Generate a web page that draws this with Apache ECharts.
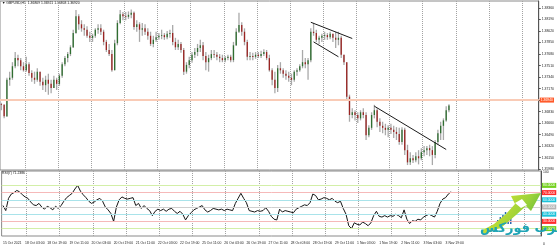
<!DOCTYPE html>
<html><head><meta charset="utf-8">
<script src="https://cdn.jsdelivr.net/npm/echarts@6/dist/echarts.min.js"></script>
<style>html,body{margin:0;padding:0;background:#fff}#c{width:557px;height:250px}</style>
</head><body><div id="c"></div>
<script>
// ---------- data ----------
var symbolTitle = 'GBPUSD,H1';
var headerQuote = ['1.36809', '1.36921', '1.36803', '1.36920'];
var tradingDays = ['15 Oct', '18 Oct', '19 Oct', '20 Oct', '21 Oct', '22 Oct', '25 Oct', '26 Oct', '27 Oct', '28 Oct', '29 Oct', '1 Nov', '2 Nov', '3 Nov'];
var barHours = ['01:00', '03:00', '05:00', '07:00', '09:00', '11:00', '13:00', '15:00', '17:00', '19:00', '21:00', '23:00'];
var firstDayStartSlot = 5;   // first bar: 15 Oct 11:00
var emptySlots = 32;          // chart shift area on the right
var firstLabel = '15 Oct 2021';
var labelEvery = 8;

var opens = [1.3694,1.3693,1.3676,1.3730,1.3733,1.3750,1.3762,1.3759,1.3750,1.3744,
1.3753,1.3740,1.3733,1.3730,1.3742,1.3727,1.3722,1.3730,1.3724,1.3718,
1.3730,1.3724,1.3736,1.3753,1.3762,1.3768,1.3778,1.3799,1.3824,1.3812,
1.3806,1.3804,1.3795,1.3792,1.3795,1.3804,1.3806,1.3801,1.3786,1.3774,
1.3768,1.3744,1.3784,1.3814,1.3827,1.3824,1.3823,1.3826,1.3829,1.3808,
1.3812,1.3804,1.3806,1.3801,1.3795,1.3783,1.3789,1.3793,1.3795,1.3796,
1.3793,1.3798,1.3799,1.3786,1.3778,1.3783,1.3774,1.3742,1.3752,1.3759,
1.3767,1.3771,1.3777,1.3781,1.3765,1.3756,1.3762,1.3768,1.3767,1.3764,
1.3762,1.3759,1.3762,1.3764,1.3759,1.3781,1.3801,1.3811,1.3801,1.3786,
1.3764,1.3765,1.3764,1.3767,1.3765,1.3768,1.3771,1.3762,1.3744,1.3730,
1.3718,1.3747,1.3744,1.3739,1.3736,1.3733,1.3730,1.3742,1.3744,1.3750,
1.3756,1.3753,1.3759,1.3801,1.3799,1.3789,1.3792,1.3795,1.3796,1.3793,
1.3798,1.3792,1.3789,1.3792,1.3767,1.3756,1.3705,1.3678,1.3682,1.3678,
1.3673,1.3682,1.3678,1.3648,1.3659,1.3678,1.3685,1.3668,1.3662,1.3659,
1.3656,1.3659,1.3656,1.3653,1.3650,1.3638,1.3656,1.3626,1.3608,1.3614,
1.3611,1.3617,1.3614,1.3623,1.3626,1.3629,1.3626,1.3619,1.3638,1.3651,
1.3662,1.3670,1.3685];
var closes = [1.3693,1.3676,1.3730,1.3733,1.3750,1.3762,1.3759,1.3750,1.3744,1.3753,
1.3740,1.3733,1.3730,1.3742,1.3727,1.3722,1.3730,1.3724,1.3718,1.3730,
1.3724,1.3736,1.3753,1.3762,1.3768,1.3778,1.3799,1.3824,1.3812,1.3806,
1.3804,1.3795,1.3792,1.3795,1.3804,1.3806,1.3801,1.3786,1.3774,1.3768,
1.3744,1.3784,1.3814,1.3827,1.3824,1.3823,1.3826,1.3829,1.3808,1.3812,
1.3804,1.3806,1.3801,1.3795,1.3783,1.3789,1.3793,1.3795,1.3796,1.3793,
1.3798,1.3799,1.3786,1.3778,1.3783,1.3774,1.3742,1.3752,1.3759,1.3767,
1.3771,1.3777,1.3781,1.3765,1.3756,1.3762,1.3768,1.3767,1.3764,1.3762,
1.3759,1.3762,1.3764,1.3759,1.3781,1.3801,1.3811,1.3801,1.3786,1.3764,
1.3765,1.3764,1.3767,1.3765,1.3768,1.3771,1.3762,1.3744,1.3730,1.3718,
1.3747,1.3744,1.3739,1.3736,1.3733,1.3730,1.3742,1.3744,1.3750,1.3756,
1.3753,1.3759,1.3801,1.3799,1.3789,1.3792,1.3795,1.3796,1.3793,1.3798,
1.3792,1.3789,1.3792,1.3767,1.3756,1.3705,1.3678,1.3682,1.3678,1.3673,
1.3682,1.3678,1.3648,1.3659,1.3678,1.3685,1.3668,1.3662,1.3659,1.3656,
1.3659,1.3656,1.3653,1.3650,1.3638,1.3656,1.3626,1.3608,1.3614,1.3611,
1.3617,1.3614,1.3623,1.3626,1.3629,1.3626,1.3619,1.3638,1.3651,1.3662,
1.3670,1.3685,1.3692];
var highs = [1.3696,1.3694,1.3733,1.3742,1.3756,1.3771,1.3767,1.3762,1.3756,1.3764,
1.3756,1.3744,1.3742,1.3747,1.3742,1.3733,1.3736,1.3739,1.3730,1.3736,
1.3733,1.3739,1.3756,1.3765,1.3771,1.3781,1.3804,1.3833,1.3827,1.3818,
1.3812,1.3809,1.3801,1.3798,1.3806,1.3812,1.3812,1.3804,1.3789,1.3783,
1.3774,1.3789,1.3818,1.3833,1.3830,1.3830,1.3831,1.3834,1.3831,1.3818,
1.3815,1.3814,1.3812,1.3806,1.3801,1.3795,1.3801,1.3799,1.3804,1.3799,
1.3802,1.3804,1.3811,1.3792,1.3789,1.3786,1.3777,1.3756,1.3764,1.3771,
1.3777,1.3783,1.3789,1.3786,1.3771,1.3767,1.3774,1.3774,1.3771,1.3768,
1.3767,1.3765,1.3767,1.3767,1.3786,1.3806,1.3829,1.3815,1.3806,1.3789,
1.3771,1.3770,1.3771,1.3771,1.3773,1.3775,1.3774,1.3767,1.3747,1.3742,
1.3752,1.3756,1.3747,1.3744,1.3742,1.3739,1.3744,1.3747,1.3753,1.3774,
1.3762,1.3762,1.3806,1.3814,1.3804,1.3795,1.3798,1.3801,1.3799,1.3801,
1.3798,1.3801,1.3801,1.3795,1.3767,1.3756,1.3708,1.3688,1.3685,1.3682,
1.3685,1.3688,1.3682,1.3663,1.3682,1.3693,1.3688,1.3673,1.3668,1.3665,
1.3663,1.3665,1.3662,1.3660,1.3659,1.3660,1.3659,1.3634,1.3623,1.3619,
1.3623,1.3626,1.3629,1.3632,1.3632,1.3634,1.3632,1.3641,1.3656,1.3668,
1.3673,1.3691,1.3694];
var lows = [1.3685,1.3673,1.3675,1.3721,1.3730,1.3747,1.3750,1.3744,1.3742,1.3742,
1.3736,1.3727,1.3724,1.3727,1.3721,1.3715,1.3712,1.3708,1.3710,1.3718,
1.3715,1.3721,1.3733,1.3750,1.3756,1.3765,1.3777,1.3798,1.3804,1.3801,
1.3795,1.3792,1.3786,1.3786,1.3792,1.3798,1.3796,1.3781,1.3771,1.3765,
1.3742,1.3744,1.3781,1.3812,1.3818,1.3818,1.3820,1.3821,1.3804,1.3801,
1.3786,1.3795,1.3796,1.3789,1.3780,1.3778,1.3786,1.3789,1.3790,1.3789,
1.3790,1.3792,1.3781,1.3774,1.3774,1.3770,1.3737,1.3739,1.3747,1.3755,
1.3762,1.3765,1.3771,1.3759,1.3744,1.3742,1.3759,1.3762,1.3759,1.3756,
1.3756,1.3756,1.3759,1.3756,1.3756,1.3780,1.3799,1.3795,1.3781,1.3759,
1.3759,1.3759,1.3761,1.3762,1.3762,1.3765,1.3759,1.3742,1.3722,1.3710,
1.3712,1.3739,1.3733,1.3730,1.3727,1.3722,1.3727,1.3736,1.3742,1.3747,
1.3747,1.3730,1.3756,1.3795,1.3786,1.3783,1.3786,1.3789,1.3789,1.3790,
1.3786,1.3777,1.3781,1.3762,1.3752,1.3700,1.3668,1.3673,1.3670,1.3666,
1.3670,1.3673,1.3641,1.3645,1.3656,1.3673,1.3660,1.3653,1.3651,1.3648,
1.3645,1.3650,1.3644,1.3641,1.3634,1.3634,1.3619,1.3604,1.3604,1.3607,
1.3608,1.3605,1.3611,1.3617,1.3619,1.3617,1.3604,1.3614,1.3634,1.3641,
1.3641,1.3668,1.3682];
var rsi7 = [52,45,62,68,70,73,71,67,64,62,
57,53,52,55,50,47,51,49,46,51,
48,52,58,63,66,69,75,80,72,67,
63,58,55,57,60,62,58,50,46,41,
30,50,60,64,62,61,62,63,52,55,
48,52,48,45,38,44,47,45,47,44,
47,48,44,41,44,40,32,38,42,46,
48,50,52,46,43,45,48,47,46,47,
45,47,46,45,55,62,69,62,56,45,
44,43,45,44,45,49,44,37,33,32,
47,43,45,44,43,42,47,49,51,53,
52,56,68,66,60,61,63,62,60,62,
58,56,58,48,40,24,20,28,26,25,
29,27,24,28,38,44,37,36,38,36,
38,37,40,38,35,46,33,27,31,30,
33,32,36,38,40,38,36,44,55,61,
63,68,71.2386];
var rsiLast = 71.2386;
var priceTicks = [1.3836,1.3819,1.3802,1.3785,1.3768,1.3751,1.3734,1.3717,1.3700,1.3683,1.3666,1.3649,1.3632,1.3615,1.3598];
var priceMin = 1.35967, priceMax = 1.38464;
var levelLinePrice = 1.3694;
var bidPrice = 1.3692;
var trendLines = [
  {from: [112, 1.3815], to: [127, 1.3791]},
  {from: [113, 1.3786], to: [122, 1.3764]},
  {from: [135, 1.3691], to: [161, 1.3627]}
];
var rsiLevels = [90, 80, 70, 60, 50, 40, 30, 20, 10];
var rsiMin = 9.7, rsiMax = 100;

// ---------- styles ----------
var levelLineColors = [null, '#d3efa8', '#f6b9b9', '#a9e3ea', '#cfcfcf', '#a9e3ea', '#f6b9b9', '#d3efa8', null];
var levelLabelColors = ['#111111', '#74d11f', '#ff2b2b', '#1cc3da', '#b5b5b5', '#1cc3da', '#ff2b2b', '#74d11f', '#111111'];
var FONT = 'Liberation Sans';
var TINY = 3.4;

// ---------- build ----------
var categories = [];
for (var d = 0; d < tradingDays.length; d++) {
  for (var h = (d === 0 ? firstDayStartSlot : 0); h < barHours.length && categories.length < closes.length; h++) {
    categories.push(tradingDays[d] + ' ' + barHours[h]);
  }
}
for (var k = 0; k < emptySlots; k++) categories.push('+' + (k + 1));

var candleData = closes.map(function (c, i) { return [i, opens[i], closes[i], lows[i], highs[i]]; });

function renderCandle(params, api) {
  var i = api.value(0), o = api.value(1), c = api.value(2), l = api.value(3), hi = api.value(4);
  var pO = api.coord([i, o]), pC = api.coord([i, c]), pL = api.coord([i, l]), pH = api.coord([i, hi]);
  var x = pO[0];
  var top = Math.min(pO[1], pC[1]), bot = Math.max(pO[1], pC[1]);
  var bw = 1.3;
  return {
    type: 'group',
    children: [
      {type: 'line', shape: {x1: x, y1: pH[1], x2: x, y2: pL[1]}, style: {stroke: '#a9a9a9', lineWidth: 1.3}},
      {type: 'rect', shape: {x: x - bw / 2, y: top, width: bw, height: Math.max(bot - top, 0.8)},
        style: {fill: c >= o ? '#2f6e30' : '#9a2422'}}
    ]
  };
}

var splitFn = function (idx) { return idx >= 9 && (idx - 9) % 12 === 0; };

var chart = echarts.init(document.getElementById('c'), null, {renderer: 'canvas'});
chart.setOption({
  animation: false,
  backgroundColor: '#ffffff',
  textStyle: {fontFamily: FONT},
  grid: [
    {left: 0, right: 16, top: 1, height: 169, show: true, borderColor: '#8a8a8a', borderWidth: 1},
    {left: 0, right: 16, top: 171, height: 65, show: true, borderColor: '#8a8a8a', borderWidth: 1}
  ],
  xAxis: [
    {type: 'category', gridIndex: 0, data: categories, boundaryGap: true,
      axisLine: {show: false}, axisTick: {show: false}, axisLabel: {show: false},
      splitLine: {show: true, interval: splitFn, lineStyle: {color: '#a2a2a2', type: 'dotted', width: 1}}},
    {type: 'category', gridIndex: 1, data: categories, boundaryGap: true,
      axisLine: {show: false}, axisTick: {show: false},
      axisLabel: {show: true, interval: function (idx) { return idx < closes.length - 1 && idx % labelEvery === 0; },
        formatter: function (v, idx) { return idx === 0 ? firstLabel : v; },
        fontSize: TINY, color: '#222', align: 'left', margin: 6, fontFamily: FONT},
      splitLine: {show: true, interval: splitFn, lineStyle: {color: '#a2a2a2', type: 'dotted', width: 1}}}
  ],
  yAxis: [
    {type: 'value', gridIndex: 0, position: 'right', min: priceMin, max: priceMax,
      axisLine: {show: true, lineStyle: {color: '#555'}},
      axisTick: {show: true, length: 2, customValues: priceTicks, lineStyle: {color: '#555'}},
      axisLabel: {show: true, customValues: priceTicks, formatter: function (v) { return v.toFixed(5); },
        fontSize: TINY, color: '#222', margin: 3, fontFamily: FONT},
      splitLine: {show: false}},
    {type: 'value', gridIndex: 1, position: 'right', min: rsiMin, max: rsiMax,
      axisLine: {show: true, lineStyle: {color: '#555'}}, axisTick: {show: false},
      axisLabel: {show: false}, splitLine: {show: false}}
  ],
  series: [
    {type: 'custom', name: 'candles', xAxisIndex: 0, yAxisIndex: 0, renderItem: renderCandle,
      data: candleData, encode: {x: 0, y: [1, 2, 3, 4]}, clip: true, silent: true, z: 3},
    {type: 'line', name: 'marks', xAxisIndex: 0, yAxisIndex: 0, data: closes, showSymbol: false, silent: true,
      lineStyle: {opacity: 0}, z: 4,
      markLine: {
        silent: true, symbol: ['none', 'none'], animation: false,
        data: trendLines.map(function (t) {
          return [{coord: t.from, lineStyle: {color: '#1a1a1a', width: 1, type: 'solid'}}, {coord: t.to}];
        }).concat([
          {yAxis: levelLinePrice, lineStyle: {color: '#f9cbb6', width: 2, type: 'solid'},
            label: {show: true, position: 'end', distance: 1, formatter: levelLinePrice.toFixed(5),
              backgroundColor: '#ff5a2a', color: '#fff', fontSize: TINY, padding: [1, 1], fontFamily: FONT}},
          {yAxis: bidPrice, lineStyle: {opacity: 0},
            label: {show: true, position: 'end', distance: 1, formatter: bidPrice.toFixed(5),
              backgroundColor: '#000', color: '#fff', fontSize: TINY, padding: [1, 1], fontFamily: FONT}}
        ]),
        label: {show: false}
      }},
    {type: 'line', name: 'RSI', xAxisIndex: 1, yAxisIndex: 1, data: rsi7, showSymbol: false,
      lineStyle: {color: '#151515', width: 1}, silent: true, z: 4,
      markLine: {
        silent: true, symbol: ['none', 'none'], animation: false,
        data: rsiLevels.map(function (v, k) {
          return {yAxis: v,
            lineStyle: {color: levelLineColors[k] || '#fff', width: 1, type: 'solid', opacity: levelLineColors[k] ? 1 : 0},
            label: {show: true, position: 'end', distance: 1, formatter: v.toFixed(4),
              backgroundColor: levelLabelColors[k], color: '#fff', fontSize: TINY, padding: [1, 1], fontFamily: FONT}};
        })
      }}
  ],
  graphic: [
    {type: 'text', left: 2, top: 2, style: {text: '\u25BC ' + symbolTitle + '  ' + headerQuote.join(' '), font: TINY + 'px ' + FONT, fill: '#111'}},
    {type: 'text', left: 2, top: 172, style: {text: 'RSI(7) ' + rsiLast.toFixed(4), font: TINY + 'px ' + FONT, fill: '#111'}},
    {type: 'text', left: 543, top: 171, style: {text: '100', font: TINY + 'px ' + FONT, fill: '#222'}},
    {type: 'text', left: 543, top: 243, style: {text: '0', font: TINY + 'px ' + FONT, fill: '#222'}},
    // logo (decorative watermark)
    {type: 'polygon', z: 10, shape: {points: [[481, 231], [494, 224], [506, 214], [515, 204], [511, 196], [541, 193], [531, 211], [526, 206], [516, 215], [502, 227], [485, 234]]},
      style: {fill: new echarts.graphic.LinearGradient(0, 0, 1, 1, [{offset: 0, color: '#f2ec2a'}, {offset: 0.6, color: '#9bd23a'}, {offset: 1, color: '#3aa83c'}])}},
    {type: 'polygon', z: 11, shape: {points: [[515, 203], [522, 199], [527, 205], [521, 208]]}, style: {fill: '#ffffff'}},
    {type: 'group', z: 11, children: [
      {type: 'rect', shape: {x: 497, y: 220, width: 1.5, height: 4}, style: {fill: '#2d68b2'}},
      {type: 'rect', shape: {x: 499.6, y: 217, width: 1.5, height: 7}, style: {fill: '#2d68b2'}},
      {type: 'rect', shape: {x: 502.2, y: 214, width: 1.5, height: 10}, style: {fill: '#2d68b2'}},
      {type: 'rect', shape: {x: 504.8, y: 212, width: 1.5, height: 12}, style: {fill: '#2d68b2'}},
      {type: 'rect', shape: {x: 507.4, y: 213, width: 1.5, height: 11}, style: {fill: '#2d68b2'}},
      {type: 'rect', shape: {x: 510, y: 215, width: 1.5, height: 9}, style: {fill: '#2d68b2'}}
    ]},
    {type: 'text', left: 480, top: 222, z: 12, style: {text: 'عرب فوركس', font: 'bold 13px "DejaVu Sans"', fill: '#1fa4b6'}}
  ]
});
</script></body></html>
